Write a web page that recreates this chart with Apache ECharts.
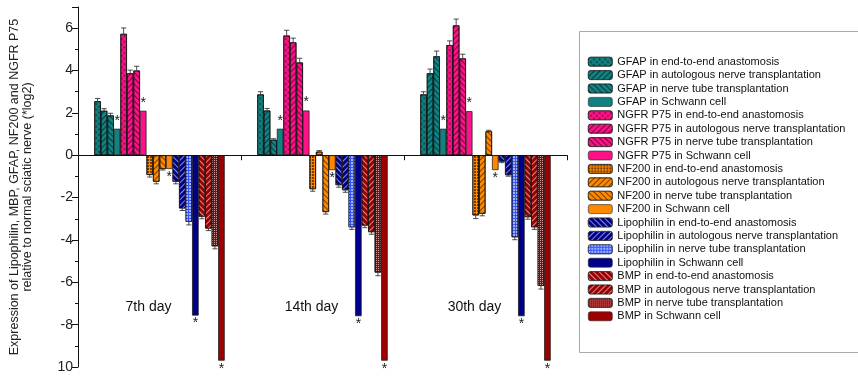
<!DOCTYPE html>
<html><head><meta charset="utf-8">
<script src="https://cdn.jsdelivr.net/npm/echarts@6/dist/echarts.min.js"></script>
<style>html,body{margin:0;padding:0;background:#fff}#c{width:858px;height:377px}</style>
</head><body><div id="c"></div>
<script>
const days = ['7th day', '14th day', '30th day'];
const markers = ['GFAP', 'NGFR P75', 'NF200', 'Lipophilin', 'BMP'];
const methods = ['end-to-end anastomosis', 'autologous nerve transplantation', 'nerve tube transplantation', 'Schwann cell'];
// values per day, in series order (marker x method)
const day7  = [2.55, 2.1, 1.88, 1.25, 5.73, 3.87, 4.0, 2.1, -0.93, -1.25, -0.65, -0.65, -1.25, -2.51, -3.14, -7.57, -2.9, -3.46, -4.3, -9.7];
const day14 = [2.87, 2.11, 0.73, 1.25, 5.65, 5.33, 4.38, 2.11, -1.6, 0.17, -2.68, -0.7, -1.41, -1.65, -3.4, -7.6, -3.32, -3.63, -5.54, -9.7];
const day30 = [2.87, 3.87, 4.67, 1.25, 5.2, 6.13, 4.57, 2.08, -2.84, -2.76, 1.13, -0.7, -0.3, -0.94, -3.87, -7.6, -2.92, -3.4, -6.17, -9.7];
const err7  = [0.13, 0.1, 0.1, 0, 0.28, 0.15, 0.2, 0, 0.1, 0.1, 0.05, 0, 0.1, 0.1, 0.15, 0, 0.1, 0.1, 0.12, 0];
const err14 = [0.13, 0.1, 0.05, 0, 0.25, 0.2, 0.2, 0, 0.1, 0.05, 0.1, 0, 0.1, 0.1, 0.1, 0, 0.1, 0.1, 0.15, 0];
const err30 = [0.13, 0.2, 0.25, 0, 0.2, 0.3, 0.2, 0, 0.15, 0.1, 0.05, 0, 0.05, 0.05, 0.12, 0, 0.1, 0.1, 0.15, 0];
const yTickValues = [-10, -8, -6, -4, -2, 0, 2, 4, 6];
const yTickLabels = ['10', '-8', '-6', '-4', '-2', '0', '2', '4', '6'];

const dayValues = [day7, day14, day30];
const dayErrs = [err7, err14, err30];

const markerColors = ['#108282', '#FF1188', '#FF8800', '#00008B', '#9E0000'];
const dark = 'rgba(0,0,0,0.55)', light = 'rgba(255,255,255,0.55)';
function hatch(color, dir) { return {symbol: 'rect', symbolSize: 1, dashArrayX: [1, 0], dashArrayY: [1, 3], rotation: dir * Math.PI / 4, color}; }
function lattice(color) { return {symbol: 'circle', symbolSize: 0.7, dashArrayX: [3, 1], dashArrayY: [3, 1], rotation: Math.PI / 4, color}; }
function grid(color) { return {symbol: 'rect', symbolSize: 1, dashArrayX: [2, 1], dashArrayY: [2, 1], rotation: 0, color}; }
function dots(color) { return {symbol: 'rect', symbolSize: 1, dashArrayX: [1, 1], dashArrayY: [1, 1], rotation: 0, color}; }

function styleFor(m, k) {
  let color = markerColors[m], decal = null;
  if (k === 3) return {color, decal: null};
  if (m <= 1) {
    decal = k === 0 ? lattice(dark) : (k === 1 ? hatch(dark, -1) : hatch(dark, 1));
  } else if (m === 2) {
    decal = k === 0 ? grid(dark) : (k === 1 ? hatch(dark, -1) : hatch(dark, 1));
  } else if (m === 3) {
    if (k === 2) { color = '#3355FF'; decal = grid('rgba(255,255,255,0.55)'); }
    else decal = k === 0 ? hatch(light, 1) : hatch(light, -1);
  } else {
    decal = k === 0 ? hatch(light, 1) : (k === 1 ? hatch(light, -1) : dots('rgba(255,255,255,0.6)'));
  }
  return {color, decal};
}

const N = markers.length * methods.length;
const names = [];
const series = [];
let idx = 0;
markers.forEach((mk, m) => {
  methods.forEach((me, k) => {
    const name = mk + ' in ' + me;
    names.push(name);
    const s = styleFor(m, k);
    const i = idx;
    const itemStyle = {color: s.color, borderColor: '#111', borderWidth: 0.7};
    if (s.decal) itemStyle.decal = s.decal;
    series.push({
      name, type: 'bar', barGap: '0%', barCategoryGap: '20%',
      itemStyle,
      emphasis: {disabled: true},
      data: dayValues.map(dv => {
        const v = dv[i];
        if (k === 3) return {value: v, label: {show: true, formatter: '*', position: v >= 0 ? 'top' : 'bottom', distance: 1, fontSize: 14, color: '#222', fontFamily: 'Liberation Sans, Arial'}};
        return v;
      })
    });
    idx++;
  });
});

const errData = [];
for (let d = 0; d < 3; d++) for (let i = 0; i < N; i++) errData.push([d, dayValues[d][i], dayErrs[d][i], i]);
series.push({
  name: 'err', type: 'custom', z: 5, silent: true,
  data: errData,
  encode: {x: 0, y: 1},
  renderItem(params, api) {
    const cat = api.value(0), v = api.value(1), e = api.value(2), k = api.value(3);
    if (!e) return null;
    const W = api.size([1, 0])[0];
    const bw = W * 0.8 / N;
    const c = api.coord([cat, 0]);
    const x = c[0] - W * 0.4 + (k + 0.5) * bw;
    const sgn = v >= 0 ? 1 : -1;
    const y0 = api.coord([cat, v])[1];
    const y1 = api.coord([cat, v + sgn * e])[1];
    const hw = bw * 0.4;
    const st = {stroke: '#222', lineWidth: 0.8};
    return {type: 'group', children: [
      {type: 'line', shape: {x1: x, y1: y0, x2: x, y2: y1}, style: st},
      {type: 'line', shape: {x1: x - hw, y1: y1, x2: x + hw, y2: y1}, style: st}
    ]};
  }
});

const chart = echarts.init(document.getElementById('c'));
const option = {
  animation: false,
  textStyle: {fontFamily: 'Liberation Sans, Arial'},
  grid: {left: 78, right: 291, top: 7, bottom: 10, containLabel: false},
  xAxis: {
    type: 'category', data: days,
    axisLine: {onZero: true, lineStyle: {color: '#111', width: 1}},
    axisTick: {show: true, length: 5, lineStyle: {color: '#111'}},
    axisLabel: {show: false},
    splitLine: {show: false}
  },
  yAxis: {
    type: 'value', min: -10, max: 7, interval: 2,
    name: 'Expression of Lipophilin, MBP, GFAP, NF200 and NGFR P75\nrelative to normal sciatic nerve (*log2)',
    nameLocation: 'middle', nameGap: 44,
    nameTextStyle: {fontSize: 12.5, color: '#222', lineHeight: 13, fontFamily: 'Liberation Sans, Arial'},
    axisLine: {show: true, lineStyle: {color: '#111', width: 1}},
    axisTick: {show: true, length: 6, lineStyle: {color: '#111'}},
    minorTick: {show: true, splitNumber: 2, length: 3, lineStyle: {color: '#111'}},
    axisLabel: {fontSize: 14, color: '#222', margin: 5, formatter: v => { const j = yTickValues.indexOf(v); return j >= 0 ? yTickLabels[j] : ''; }},
    splitLine: {show: false}
  },
  legend: {
    data: names, orient: 'vertical', left: 588, top: 55.7,
    itemWidth: 24, itemHeight: 9, itemGap: 1.4, padding: 0,
    itemStyle: {borderWidth: 0.6, borderColor: '#222'},
    textStyle: {fontSize: 11, lineHeight: 12, color: '#111', fontFamily: 'Liberation Sans, Arial'},
    selectedMode: false
  },
  graphic: [{type: 'rect', left: 577, top: 29, shape: {width: 279, height: 321}, style: {fill: 'none', stroke: '#aaa', lineWidth: 1}, silent: true}],
  series
};
chart.setOption(option);
const labels = days.map((d, i) => {
  const p = chart.convertToPixel({xAxisIndex: 0, yAxisIndex: 0}, [i, -7.15]);
  return {type: 'text', x: p[0] - 11, y: p[1], style: {text: d, fontSize: 14, fill: '#111', align: 'center', verticalAlign: 'middle', fontFamily: 'Liberation Sans, Arial'}, silent: true};
});
chart.setOption({graphic: [option.graphic[0]].concat(labels)});
</script></body></html>
